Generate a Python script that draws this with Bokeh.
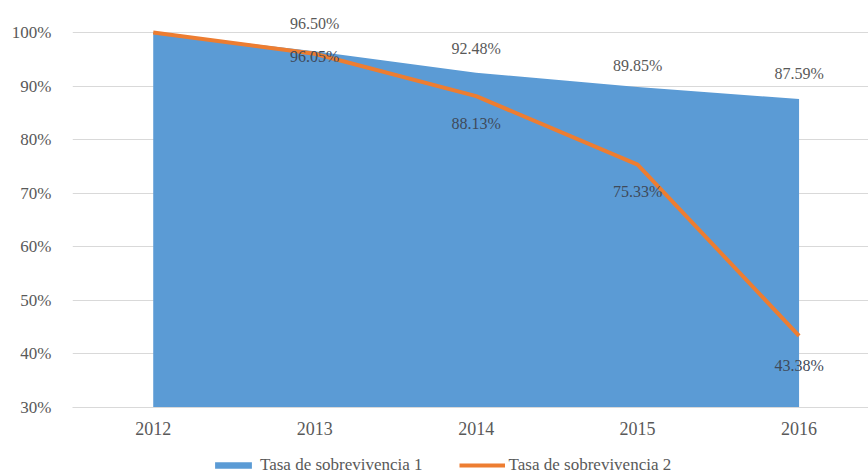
from bokeh.plotting import figure
from bokeh.layouts import column
from bokeh.models import (ColumnDataSource, Range1d, FixedTicker, PrintfTickFormatter,
                          Legend, LegendItem)
from bokeh.core.properties import value
from bokeh.embed import file_html
from bokeh.resources import INLINE

# ---- data ----
years = [2012, 2013, 2014, 2015, 2016]
tasa1 = [100.0, 96.50, 92.48, 89.85, 87.59]
tasa2 = [100.0, 96.05, 88.13, 75.33, 43.38]
y_ticks = [30, 40, 50, 60, 70, 80, 90, 100]
series_names = ["Tasa de sobrevivencia 1", "Tasa de sobrevivencia 2"]

FONT = value("Liberation Serif")
BLUE = "#5B9BD5"
ORANGE = "#ED7D31"
GREY = "#595959"

x_rng = (years[0] - 0.5, years[-1] + 0.43)

p = figure(frame_width=796, frame_height=407, output_backend="svg", toolbar_location=None,
           x_range=Range1d(*x_rng),
           y_range=Range1d(y_ticks[0], y_ticks[-1] + 5.98),
           min_border_left=72, min_border_right=0, min_border_top=0, min_border_bottom=43)
p.outline_line_color = None
p.background_fill_color = "white"

area = p.varea(x=years, y1=[y_ticks[0]] * len(years), y2=tasa1, fill_color=BLUE)
line = p.line(x=years, y=tasa2, line_color=ORANGE, line_width=4)

# data labels (skip first point)
src1 = ColumnDataSource(dict(x=years[1:], y=tasa1[1:],
                             t=["%.2f%%" % v for v in tasa1[1:]],
                             off=[-28, -24, -21, -26]))
src2 = ColumnDataSource(dict(x=years[1:], y=tasa2[1:],
                             t=["%.2f%%" % v for v in tasa2[1:]],
                             off=[3, 27, 27, 30]))
for s, col in ((src1, GREY), (src2, "#3F4A5A")):
    p.text(x="x", y="y", text="t", y_offset="off", source=s, text_font=FONT,
           text_font_size="16px", text_color=col, text_align="center",
           text_baseline="middle")

# axes
p.xaxis.ticker = FixedTicker(ticks=years)
p.yaxis.ticker = FixedTicker(ticks=y_ticks)
p.yaxis.formatter = PrintfTickFormatter(format="%d%%")
for ax in (p.xaxis, p.yaxis):
    ax.major_tick_line_color = None
    ax.minor_tick_line_color = None
    ax.major_label_text_font = "Liberation Serif"
    ax.major_label_text_color = GREY
p.xaxis.major_label_text_font_size = "18px"
p.yaxis.major_label_text_font_size = "17px"
p.yaxis.axis_line_color = None
p.xaxis.axis_line_color = "#D9D9D9"
p.yaxis.major_label_standoff = 15
p.xaxis.major_label_standoff = 8
p.xgrid.grid_line_color = None
p.ygrid.grid_line_color = "#D9D9D9"

# legend strip below the chart (own small figure so it is not clipped);
# its renderers hold the same series but fall outside this strip's y range
lg = figure(width=868, height=26, output_backend="svg", toolbar_location=None,
            x_range=Range1d(*x_rng), y_range=Range1d(0, 1),
            x_axis_type=None, y_axis_type=None,
            min_border_left=0, min_border_right=0, min_border_top=0, min_border_bottom=0)
lg.outline_line_color = None
lg.grid.visible = False
d_area = lg.varea(x=years, y1=[y_ticks[0]] * len(years), y2=tasa1, fill_color=BLUE)
d_line = lg.line(x=years, y=tasa2, line_color=ORANGE, line_width=4)
legend = Legend(items=[LegendItem(label=series_names[0], renderers=[d_area]),
                       LegendItem(label=series_names[1], renderers=[d_line])],
                orientation="horizontal", location=(138, 1),
                label_text_font="Liberation Serif", label_text_font_size="17px",
                label_text_color=GREY, glyph_width=46, glyph_height=8,
                spacing=36, padding=0, margin=0, border_line_color=None,
                background_fill_alpha=0, label_standoff=4, label_height=18)
lg.add_layout(legend)

layout = column(p, lg, spacing=0)
open("out.html", "w").write(file_html(layout, INLINE))
